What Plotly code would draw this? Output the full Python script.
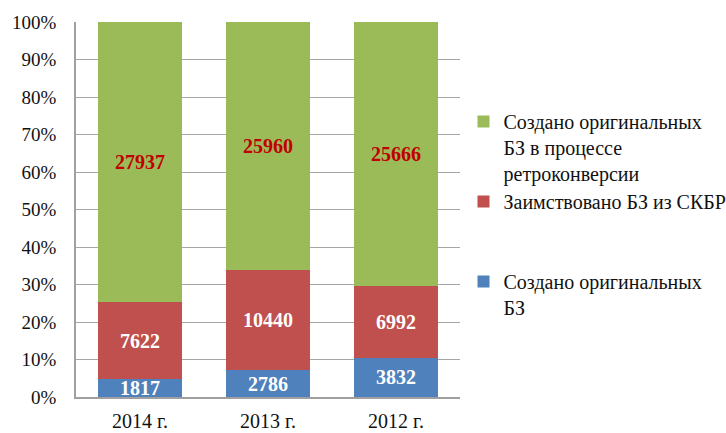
import plotly.graph_objects as go

categories = ["2014 г.", "2013 г.", "2012 г."]
names = ["Создано оригинальных<br>БЗ",
         "Заимствовано БЗ из СКБР",
         "Создано оригинальных<br>БЗ в процессе<br>ретроконверсии"]
created = [1817, 2786, 3832]
borrowed = [7622, 10440, 6992]
retro = [27937, 25960, 25666]
tick_vals = [0, 10, 20, 30, 40, 50, 60, 70, 80, 90, 100]
tick_text = [f"{v}%" for v in tick_vals]

colors = ["#4F81BD", "#C0504D", "#9BBB59"]
label_colors = ["white", "white", "#C00000"]
series = [created, borrowed, retro]
legends = ["legend3", "legend2", "legend"]

FONT = "Liberation Serif, Times New Roman, serif"
fig = go.Figure()
for vals, nm, c, lc, lg in zip(series, names, colors, label_colors, legends):
    fig.add_trace(go.Bar(
        x=categories, y=vals, name=nm, marker_color=c, marker_line_width=0,
        text=[str(v) for v in vals], textposition="inside",
        insidetextanchor="middle", textangle=0, constraintext="none",
        textfont=dict(family=FONT, size=20, color=lc, weight="bold"),
        legend=lg, hoverinfo="skip", cliponaxis=False,
    ))

leg_common = dict(font=dict(family=FONT, size=20, color="#111111"),
                  valign="top", xref="container", yref="container",
                  xanchor="left", yanchor="top", bgcolor="rgba(0,0,0,0)",
                  borderwidth=0, itemwidth=30, tracegroupgap=0)
lx = 463.5 / 726
fig.update_layout(
    width=726, height=433,
    margin=dict(l=76, r=266, t=22, b=36),
    barmode="stack", barnorm="percent", bargap=0.35,
    plot_bgcolor="white", paper_bgcolor="white",
    font=dict(family=FONT),
    legend=dict(x=lx, y=1 - 102 / 433, **leg_common),
    legend2=dict(x=lx, y=1 - 182 / 433, **leg_common),
    legend3=dict(x=lx, y=1 - 262 / 433, **leg_common),
    showlegend=True,
)
fig.update_yaxes(range=[0, 100], tickvals=tick_vals, ticktext=tick_text,
                 showgrid=True, gridcolor="#A6A6A6", gridwidth=1,
                 showline=True, linecolor="#A0A0A0", linewidth=1.5,
                 ticks="", zeroline=False, automargin=False,
                 ticklabelstandoff=14,
                 tickfont=dict(family=FONT, size=19, color="#111111"))
fig.update_xaxes(showline=True, linecolor="#A0A0A0", linewidth=1.5, ticks="",
                 automargin=False, ticklabelstandoff=5,
                 tickfont=dict(family=FONT, size=20, color="#111111"))
fig.write_html("out.html", config={"displayModeBar": False},
               post_script="document.body.style.margin='0px';")
